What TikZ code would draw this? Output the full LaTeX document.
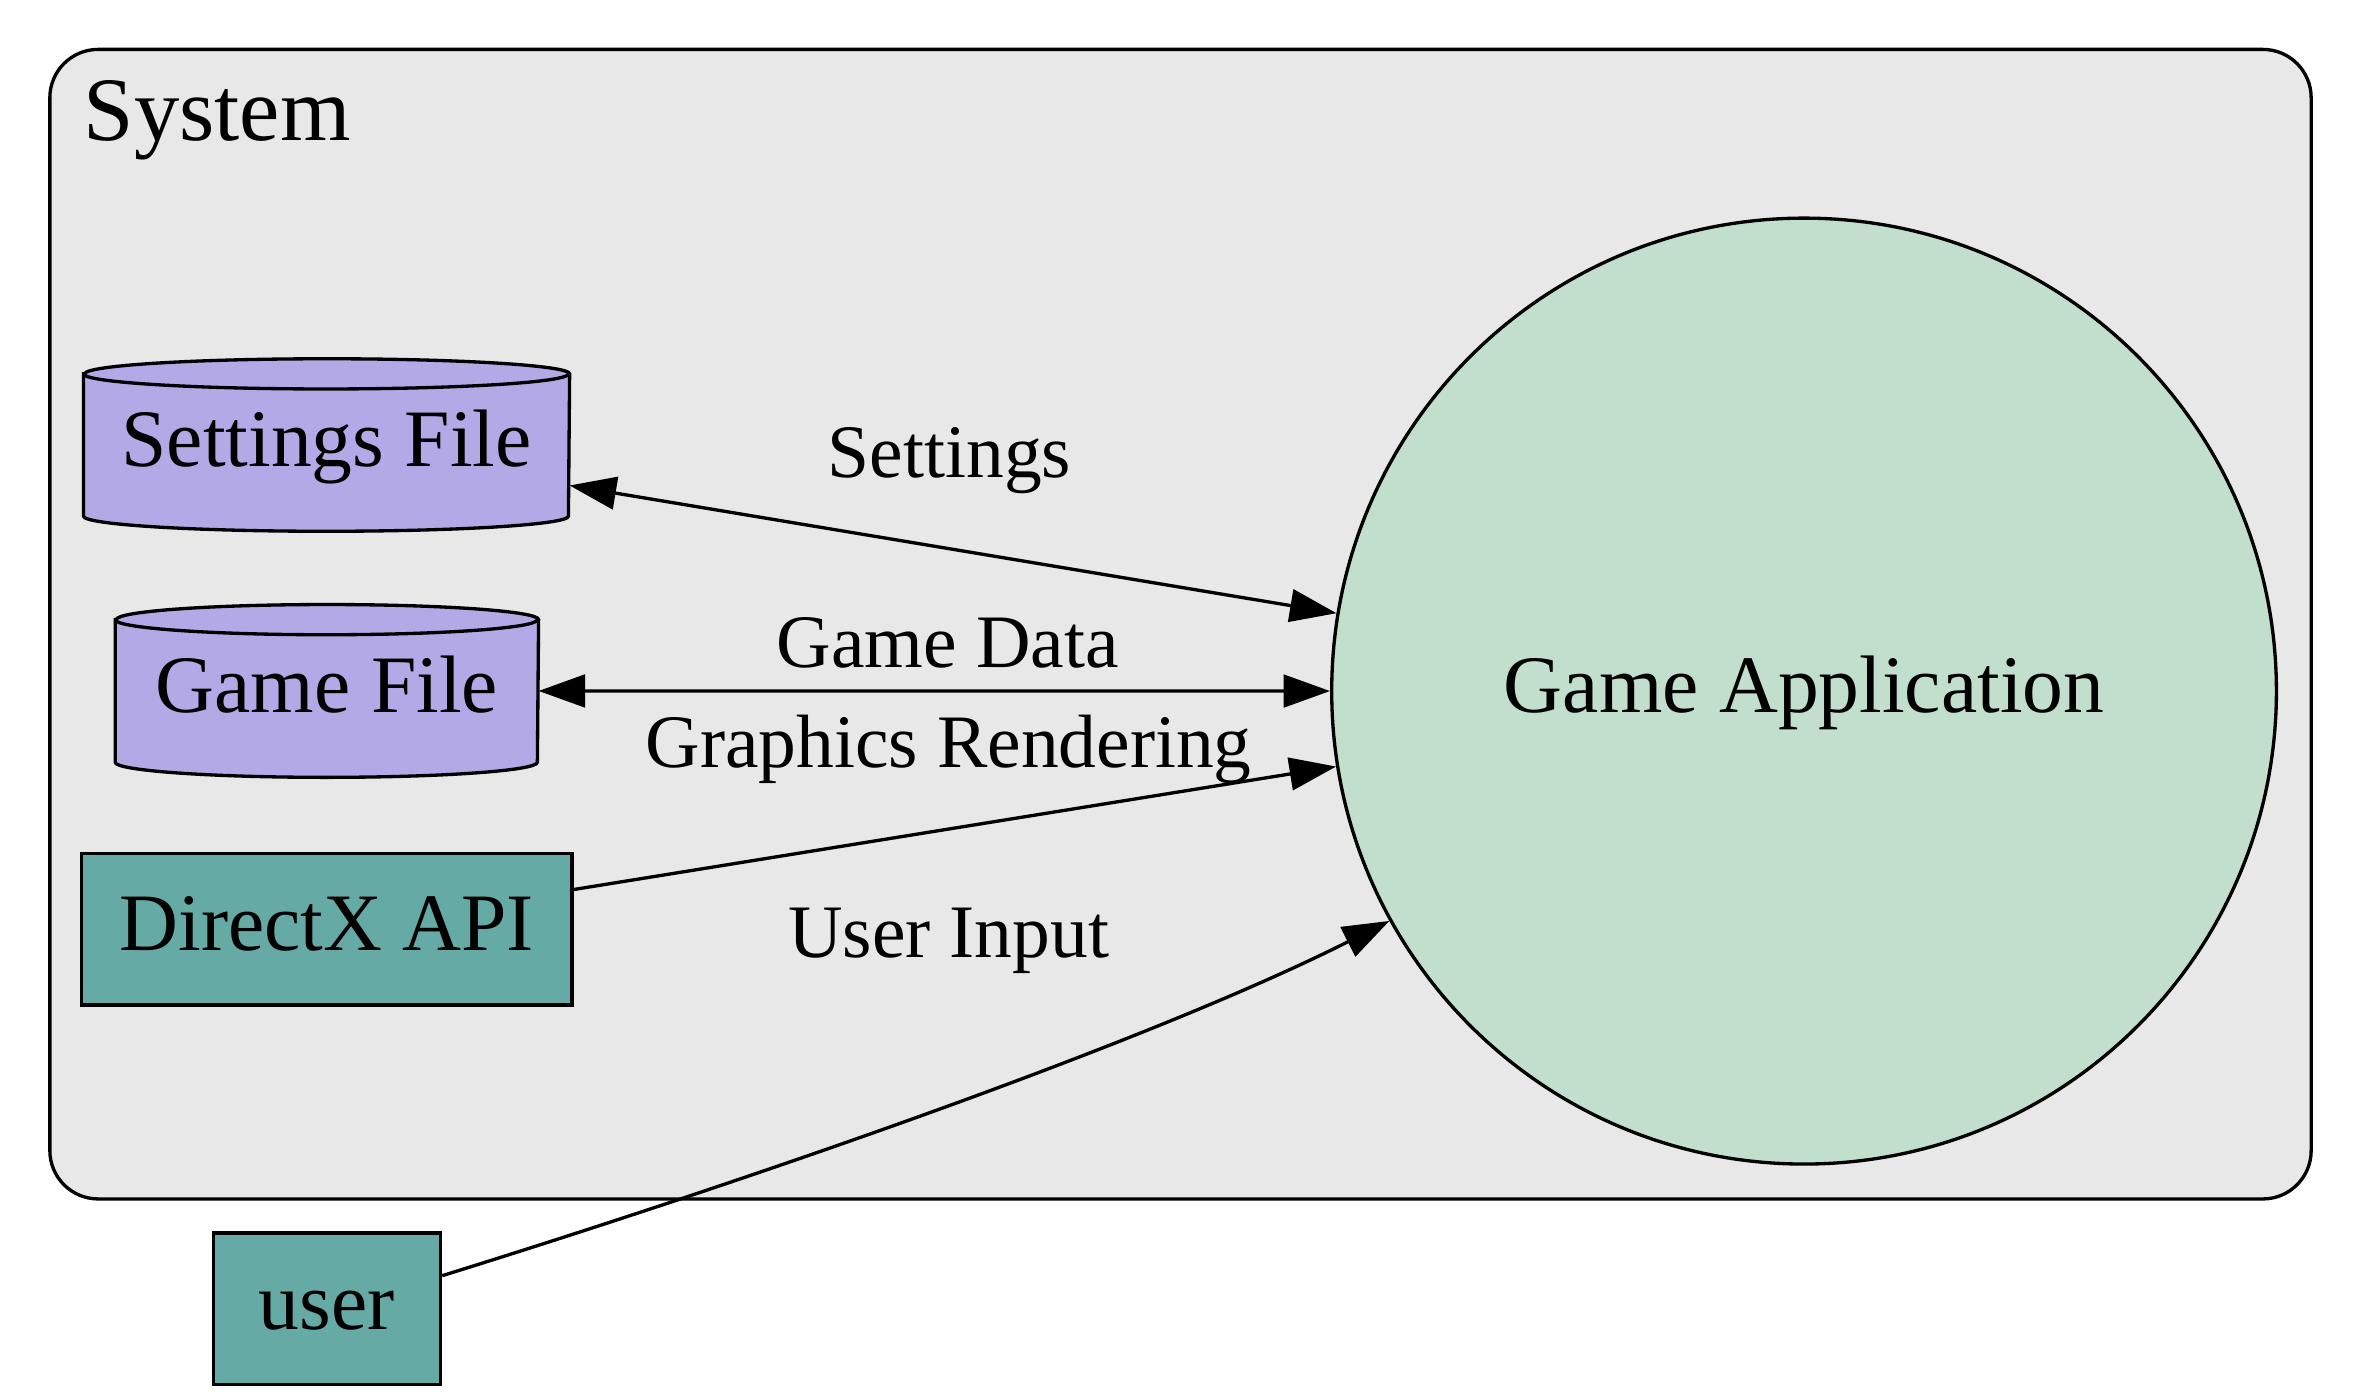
\documentclass[tikz,border=0pt]{standalone}
\usepackage{fontspec}
\setmainfont{Liberation Serif}
\usetikzlibrary{arrows.meta,shapes.geometric}
\pgfdeclarelayer{bg}
\pgfdeclarelayer{mid}
\pgfsetlayers{bg,mid,main}
\definecolor{clusterfill}{RGB}{232,232,232}
\definecolor{cylfill}{RGB}{179,169,230}
\definecolor{tealfill}{RGB}{102,170,165}
\definecolor{appfill}{RGB}{193,223,204}
\tikzset{
  nodefont/.style={font=\fontsize{27}{32}\selectfont, text height=19.5pt, text depth=5.5pt},
  edgefont/.style={font=\fontsize{25}{30}\selectfont, inner sep=0pt, anchor=base},
  cylnode/.style={nodefont, rectangle, draw=none, inner sep=0pt},
  boxnode/.style={nodefont, rectangle, draw=black, line width=1.1pt, fill=tealfill, inner sep=0pt},
  appnode/.style={nodefont, ellipse, draw=black, line width=1.1pt, fill=appfill, inner sep=0pt},
  edgeline/.style={draw=black, line width=1.1pt},
  tipshape/.style={},
  onearrow/.style={edgeline, -{Triangle[length=15.4pt,width=10.8pt]}},
  twoarrow/.style={edgeline, {Triangle[length=15.4pt,width=10.8pt]}-{Triangle[length=15.4pt,width=10.8pt]}},
  cylshape/.style={draw=black, line width=1.1pt, fill=cylfill},
}
\newcommand{\drawcyl}[2]{%
  \begin{pgfonlayer}{mid}
  \path[cylshape] ([yshift=-5pt]#1.north west) -- ([yshift=5pt]#1.south west)
     arc[start angle=180, end angle=360, x radius=#2, y radius=5pt]
     -- ([yshift=-5pt]#1.north east)
     arc[start angle=0, end angle=180, x radius=#2, y radius=5pt] -- cycle;
  \draw[line width=1.1pt] ([yshift=-5pt]#1.north west)
     arc[start angle=180, end angle=360, x radius=#2, y radius=5pt];
  \end{pgfonlayer}}
\begin{document}
\begin{tikzpicture}[x=0.5pt, y=-0.5pt]
\useasboundingbox (0,0) rectangle (1563,926.8);
% cluster
\begin{pgfonlayer}{bg}
\draw[fill=clusterfill, draw=black, line width=1.1pt, rounded corners=16pt] (33,32.7) rectangle (1530,793.7);
\end{pgfonlayer}
\node[anchor=base west, inner sep=0pt, font=\fontsize{30}{36}\selectfont] (syslabel) at (55,92.7) {System};
% nodes
\node[cylnode, minimum width=160.5pt, minimum height=56.7pt] (sf) at (216.2,294.6) {Settings File};
\drawcyl{sf}{80.25pt}
\node[cylnode, minimum width=139.75pt, minimum height=56.8pt] (gf) at (216.4,457.4) {Game File};
\drawcyl{gf}{69.875pt}
\node[boxnode, minimum width=162.4pt, minimum height=50.15pt] (dx) at (216.3,615.2) {DirectX API};
\node[boxnode, minimum width=75.25pt, minimum height=50.2pt] (user) at (216.4,866.4) {user};
\node[appnode, minimum width=312.7pt, minimum height=313.1pt] (ga) at (1194.3,457.5) {Game Application};
% edges
\draw[twoarrow] (sf) -- (ga);
\draw[twoarrow] (gf) -- (ga);
\draw[onearrow] (dx) -- (ga);
\draw[onearrow] (user.16) .. controls (500,780) and (760,690) .. (ga.209);
% edge labels
\node[edgefont] (lsettings) at (628.6,315.9) {Settings};
\node[edgefont] (lgamedata) at (627.4,441.6) {Game Data};
\node[edgefont] (lgraphics) at (628,507.8) {Graphics Rendering};
\node[edgefont] (luser) at (628,633.8) {User Input};
\end{tikzpicture}
\end{document}
